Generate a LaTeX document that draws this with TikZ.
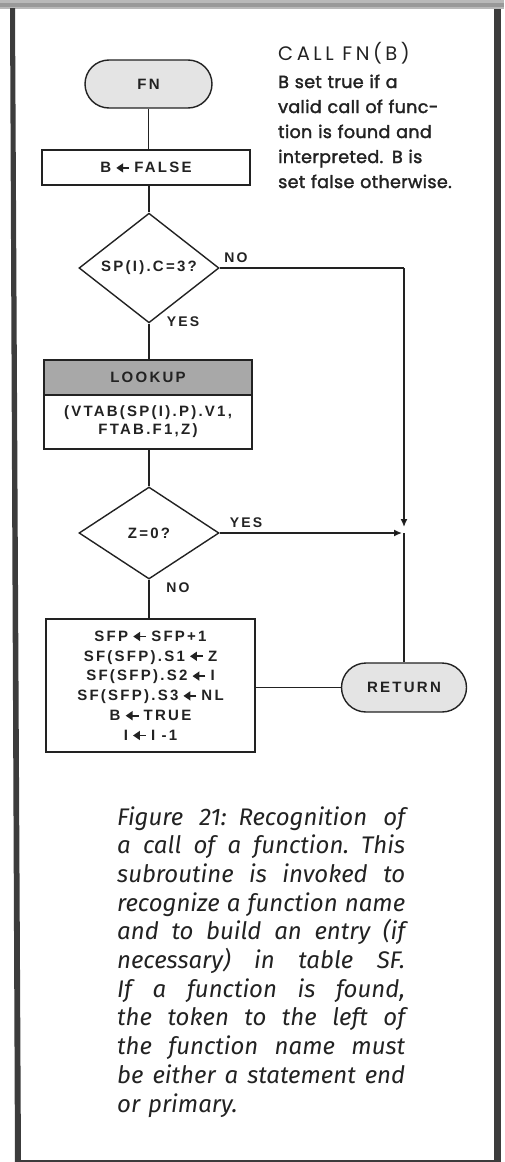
\documentclass[tikz,border=0pt]{standalone}
\usepackage{fontspec}
\usetikzlibrary{shapes.geometric,shapes.misc,arrows.meta}
\newfontfamily\flowf[LetterSpace=15]{Liberation Sans}
\newfontfamily\notea[LetterSpace=18]{Poppins}
\newfontfamily\noteb[LetterSpace=2,FakeBold=2]{Poppins}
\newfontfamily\capf{Fira Sans}
\definecolor{ink}{HTML}{222222}
\definecolor{frame}{HTML}{3C3C3C}
\definecolor{lightfill}{HTML}{E4E4E4}
\definecolor{bandfill}{HTML}{A8A8A8}
\newcommand\asg{\;\tikz[baseline=-0.6ex]\draw[ink,line width=1.8pt,-{Triangle[length=7pt,width=9pt]}] (13pt,0pt)--(0pt,0pt);\;}
\newcommand\jl[1]{\leavevmode\hbox to 288pt{\spaceskip=0.27em plus 1fil minus 0.05em\relax #1}}
\begin{document}
\begin{tikzpicture}[x=1pt,y=-1pt,
  every node/.style={inner sep=0pt},
  flow/.style={font=\flowf\bfseries\fontsize{15}{18}\selectfont, text=ink},
  conn/.style={draw=ink,line width=1.4pt},
  term/.style={flow,rounded rectangle,draw=ink,line width=1.4pt,fill=lightfill},
  procbox/.style={flow,rectangle,draw=ink,line width=1.4pt,fill=white},
  decision/.style={flow,diamond,draw=ink,line width=1.4pt,fill=white},
  lbl/.style={font=\flowf\bfseries\fontsize{14}{16}\selectfont, text=ink},
  tip/.style={-{Latex[length=8pt,width=7pt]}}
]
\useasboundingbox (0,0) rectangle (504,1162);
% frame
\fill[gray!55] (0,0) rectangle (504,9);
\fill[gray!80] (0,3) rectangle (504,7);
\fill[frame] (10,8) -- (15,8) -- (21,1162) -- (15,1162) -- cycle;
\fill[frame] (494,9) rectangle (501,1162);
\fill[frame] (15,1159.5) rectangle (501,1162);

% nodes
\node[term,minimum width=127pt,minimum height=48pt] (fn) at (148.5,84) {FN};
\node[procbox,minimum width=208pt,minimum height=35pt] (bf) at (146,167.5) {B\asg FALSE};
\node[decision,minimum width=140pt,minimum height=90pt] (d1) at (149,268) {SP(I).C=3?};
\node[procbox,fill=bandfill,minimum width=208pt,minimum height=35pt] (lk) at (148,377.5) {LOOKUP};
\node[procbox,minimum width=208pt,minimum height=54pt,align=center] (lkb) at (148,422) {(VTAB(SP(I).P).V1,\\FTAB.F1,Z)};
\node[decision,minimum width=140pt,minimum height=92pt] (d2) at (149,533) {Z=0?};
\node[procbox,minimum width=209pt,minimum height=133pt,align=center,font=\flowf\bfseries\fontsize{15}{19.8}\selectfont] (proc) at (150.5,685.5)
  {SFP\asg SFP+1\\SF(SFP).S1\asg Z\\SF(SFP).S2\asg I\\SF(SFP).S3\asg NL\\B\asg TRUE\\I\asg I -1};
\node[term,minimum width=125pt,minimum height=49pt] (ret) at (404,687.5) {RETURN};

\coordinate (j) at (ret.north |- d2.east);

% labels
\node[lbl] (no1) at (236,258) {NO};
\node[lbl] (yes1) at (183,322) {YES};
\node[lbl] (yes2) at (246,523) {YES};
\node[lbl] (no2) at (178,588) {NO};

% connectors
\draw[conn] (fn.south) -- (fn.south |- bf.north);
\draw[conn] (bf.south -| d1.north) -- (d1.north);
\draw[conn] (d1.south) -- (d1.south |- lk.north);
\draw[conn] (lkb.south -| d2.north) -- (d2.north);
\draw[conn] (d2.south) -- (d2.south |- proc.north);
\draw[conn] (d1.east) -- (d1.east -| ret.north);
\draw[conn,tip] (d1.east -| ret.north) -- ([yshift=6pt]j);
\draw[conn] (j) -- (ret.north);
\draw[conn,tip] (d2.east) -- ([xshift=-2pt]j);
\draw[conn] (proc.east |- ret.west) -- (ret.west);

% note
\node[anchor=base west,font=\notea\fontsize{19.5}{20}\selectfont,text=ink] (t0) at (278,60) {CALL FN(B)};
\node[anchor=base west,text width=215pt,align=left,font=\noteb\fontsize{17.5}{25}\selectfont,text=ink] (t1) at (278,88)
  {B set true if a\\valid call of func-\\tion is found and\\interpreted. B is\\set false otherwise.};

% caption
\node[anchor=base west,text width=288pt,align=left,font=\capf\itshape\fontsize{24}{28.7}\selectfont,text=ink] (cap) at (117,825)
  {\jl{Figure 21: Recognition of}\\
   \jl{a call of a function. This}\\
   \jl{subroutine is invoked to}\\
   \jl{recognize a function name}\\
   \jl{and to build an entry (if}\\
   \jl{necessary) in table SF.}\\
   \jl{If a function is found,}\\
   \jl{the token to the left of}\\
   \jl{the function name must}\\
   \jl{be either a statement end}\\
   or primary.};
\end{tikzpicture}
\end{document}
